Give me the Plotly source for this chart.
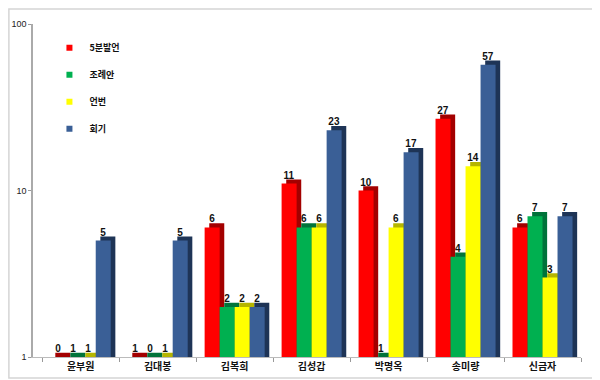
import plotly.graph_objects as go

categories = ["윤부원", "김대봉", "김복희", "김성갑", "박명옥", "송미량", "신금자"]
series_names = ["5분발언", "조례안", "언번", "회기"]
v_speech = [0, 1, 6, 11, 10, 27, 6]
v_ordinance = [1, 0, 2, 6, 1, 4, 7]
v_third = [1, 1, 2, 6, 6, 14, 3]
v_session = [5, 5, 2, 23, 17, 57, 7]
y_ticks = [1, 10, 100]

all_values = [v_speech, v_ordinance, v_third, v_session]
face_colors = ["#FF0000", "#00B050", "#FFFF00", "#3A5F96"]
side_colors = ["#A30000", "#00733A", "#B5B500", "#1E3456"]

bar_w = 0.195
depth_dx = 0.06
depth_fy = 1.06

fig = go.Figure()
for i, (name, vals) in enumerate(zip(series_names, all_values)):
    plot_vals = [max(v, 1) for v in vals]
    off = -2 * bar_w + i * bar_w
    fig.add_trace(go.Bar(
        x=categories, y=[v * depth_fy for v in plot_vals],
        width=bar_w, offset=off + depth_dx,
        marker=dict(color=side_colors[i], line=dict(width=0)),
        showlegend=False, hoverinfo="skip",
    ))
    fig.add_trace(go.Bar(
        x=categories, y=plot_vals, name=name,
        width=bar_w, offset=off,
        marker=dict(color=face_colors[i], line=dict(width=0)),
        text=[str(v) for v in vals], textposition="outside",
        textfont=dict(size=10, color="#111111", family="Liberation Sans", weight="bold"),
        cliponaxis=False, showlegend=False,
    ))

for i, name in enumerate(series_names):
    fig.add_trace(go.Scatter(
        x=[None], y=[None], mode="markers", name=name,
        marker=dict(symbol="square", size=6, color=face_colors[i]),
        legendgroup=name,
    ))

fig.update_layout(
    width=592, height=372,
    barmode="overlay",
    paper_bgcolor="white", plot_bgcolor="white",
    margin=dict(l=25, r=19, t=16, b=23),
    font=dict(family="Noto Sans CJK KR, Liberation Sans", size=9, color="#222"),
    legend=dict(
        x=0.03, y=0.972, xanchor="left", yanchor="top",
        bgcolor="rgba(0,0,0,0)", tracegroupgap=8,
        font=dict(size=9, color="#111", family="Noto Sans CJK KR", weight="bold"),
        itemwidth=30,
    ),
    xaxis=dict(
        type="category", range=[-0.62, 6.5], automargin=False,
        showline=True, linecolor="#BBBBBB", linewidth=1,
        ticks="outside", tickson="boundaries", ticklen=4, tickcolor="#999",
        tickfont=dict(size=10, color="#111", family="Noto Sans CJK KR", weight="bold"),
        showgrid=False,
    ),
    yaxis=dict(
        type="log", range=[0, 2], automargin=False,
        tickvals=y_ticks, ticktext=[str(t) for t in y_ticks],
        showline=True, linecolor="#AAAAAA", linewidth=1.5,
        ticks="outside", ticklen=3, tickcolor="#999",
        tickfont=dict(size=9, color="#222", family="Liberation Sans"),
        showgrid=False, zeroline=False,
    ),
)
fig.add_shape(type="rect", xref="paper", yref="paper",
              x0=-0.044, x1=1.031, y0=-0.063, y1=1.045,
              line=dict(color="#D5D5D5", width=1.5), layer="below")
fig.write_html("out.html")
